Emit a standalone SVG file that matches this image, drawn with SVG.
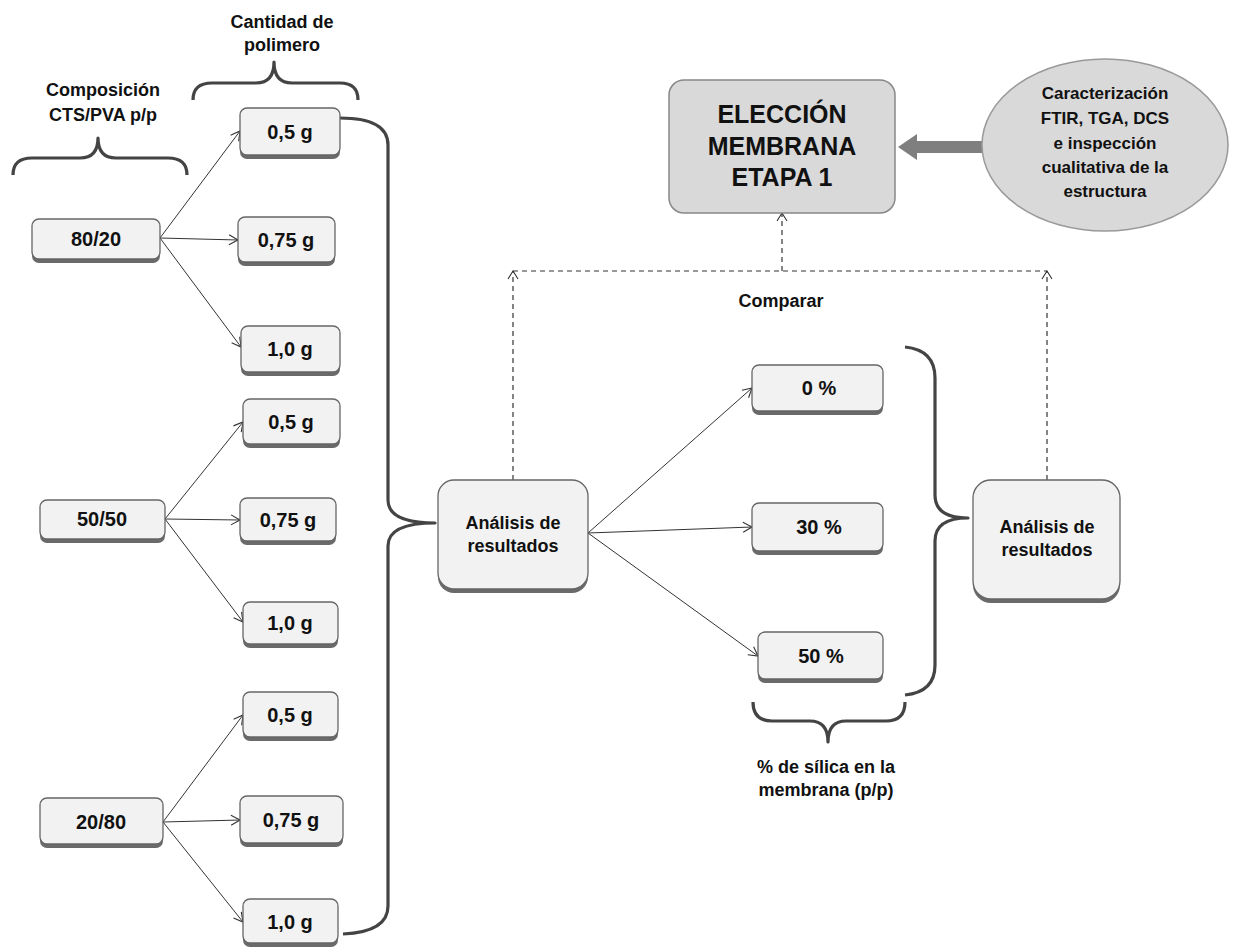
<svg xmlns="http://www.w3.org/2000/svg" width="1233" height="948" viewBox="0 0 1233 948">
<style>
text{font-family:"Liberation Sans",Arial,sans-serif;font-weight:bold;fill:#111;text-anchor:middle}
.lbl{font-size:18px}
.bx{font-size:20px}
.sh{fill:#6a6a6a}
.box{fill:#f2f2f2;stroke:#666;stroke-width:1.3}
.arr{fill:none;stroke:#333;stroke-width:1;marker-end:url(#oa)}
.dash{fill:none;stroke:#333;stroke-width:1.2;stroke-dasharray:5,4}
.brace{fill:none;stroke:#444;stroke-width:3.2;stroke-linejoin:round}
</style>
<defs>
<marker id="oa" markerWidth="12" markerHeight="12" refX="10" refY="6" orient="auto" markerUnits="userSpaceOnUse">
<path d="M1,1 L10,6 L1,11" fill="none" stroke="#333" stroke-width="1.1"/>
</marker>
<marker id="da" markerWidth="14" markerHeight="14" refX="7" refY="1" orient="0" markerUnits="userSpaceOnUse">
<path d="M2,9 L7,1 L12,9" fill="none" stroke="#333" stroke-width="1.1"/>
</marker>
</defs>

<g id="labels">
<text class="lbl" x="282" y="28">Cantidad de</text>
<text class="lbl" x="282" y="51">polimero</text>
<text class="lbl" x="103" y="96">Composición</text>
<text class="lbl" x="103" y="121">CTS/PVA p/p</text>
<text class="lbl" x="781" y="307">Comparar</text>
<text class="lbl" x="826" y="773">% de sílica en la</text>
<text class="lbl" x="826" y="796">membrana (p/p)</text>
</g>

<g id="braces">
<path class="brace" d="M13,175 Q13,158 32,158 L80,158 Q98,158 98,138 Q98,158 116,158 L168,158 Q187,158 187,175"/>
<path class="brace" d="M193,100 Q193,83 212,83 L256,83 Q274,83 274,62 Q274,83 292,83 L340,83 Q358,83 358,100"/>
<path class="brace" d="M753,702 Q753,721 772,721 L810,721 Q828,721 828,742 Q828,721 846,721 L886,721 Q905,721 905,702"/>
<path class="brace" d="M340,118 Q388,118 388,145 L388,500 Q388,523 435,523 Q388,523 388,546 L388,906 Q388,932 343,934"/>
<path class="brace" d="M905,347 Q935,350 935,378 L935,495 Q935,518 968,518 Q935,518 935,541 L935,665 Q935,692 905,695"/>
</g>

<g id="connectors">
<path class="arr" d="M160,238 L240,131"/>
<path class="arr" d="M160,238 L238,240"/>
<path class="arr" d="M160,238 L241,347"/>
<path class="arr" d="M165,519 L243,422"/>
<path class="arr" d="M165,519 L240,520"/>
<path class="arr" d="M165,519 L243,622"/>
<path class="arr" d="M163,822 L243,715"/>
<path class="arr" d="M163,822 L240,820"/>
<path class="arr" d="M163,822 L243,922"/>
<path class="arr" d="M588,533 L752,388"/>
<path class="arr" d="M588,533 L752,527"/>
<path class="arr" d="M588,533 L758,656"/>
<path class="dash" d="M513,480 L513,271" marker-end="url(#da)"/>
<path class="dash" d="M1047,480 L1047,271" marker-end="url(#da)"/>
<path class="dash" d="M513,271 L1047,271"/>
<path class="dash" d="M782,271 L782,213" marker-end="url(#da)"/>
<path d="M982,141 L917,141 L917,134 L898,147 L917,160 L917,153 L982,153 Z" fill="#7f7f7f"/>
</g>

<g id="n8020"><rect class="sh" x="32" y="222" width="128" height="41" rx="7"/><rect class="box" x="32" y="219" width="128" height="40" rx="7"/><text class="bx" x="96" y="246">80/20</text></g>
<g id="n5050"><rect class="sh" x="40" y="503" width="125" height="40" rx="7"/><rect class="box" x="40" y="500" width="125" height="39" rx="7"/><text class="bx" x="102" y="526">50/50</text></g>
<g id="n2080"><rect class="sh" x="40" y="801" width="123" height="47" rx="7"/><rect class="box" x="40" y="798" width="123" height="46" rx="7"/><text class="bx" x="101" y="829">20/80</text></g>

<g id="g1a"><rect class="sh" x="240" y="111" width="100" height="48" rx="7"/><rect class="box" x="240" y="108" width="100" height="47" rx="7"/><text class="bx" x="290" y="139">0,5 g</text></g>
<g id="g1b"><rect class="sh" x="238" y="220" width="97" height="46" rx="7"/><rect class="box" x="238" y="217" width="97" height="45" rx="7"/><text class="bx" x="286" y="247">0,75 g</text></g>
<g id="g1c"><rect class="sh" x="241" y="329" width="99" height="47" rx="7"/><rect class="box" x="241" y="326" width="99" height="46" rx="7"/><text class="bx" x="290" y="356">1,0 g</text></g>
<g id="g2a"><rect class="sh" x="243" y="402" width="97" height="46" rx="7"/><rect class="box" x="243" y="399" width="97" height="45" rx="7"/><text class="bx" x="291" y="429">0,5 g</text></g>
<g id="g2b"><rect class="sh" x="240" y="501" width="96" height="44" rx="7"/><rect class="box" x="240" y="498" width="96" height="43" rx="7"/><text class="bx" x="288" y="527">0,75 g</text></g>
<g id="g2c"><rect class="sh" x="243" y="605" width="95" height="43" rx="7"/><rect class="box" x="243" y="602" width="95" height="42" rx="7"/><text class="bx" x="290" y="630">1,0 g</text></g>
<g id="g3a"><rect class="sh" x="243" y="695" width="95" height="46" rx="7"/><rect class="box" x="243" y="692" width="95" height="45" rx="7"/><text class="bx" x="290" y="722">0,5 g</text></g>
<g id="g3b"><rect class="sh" x="240" y="799" width="103" height="48" rx="7"/><rect class="box" x="240" y="796" width="103" height="47" rx="7"/><text class="bx" x="291" y="827">0,75 g</text></g>
<g id="g3c"><rect class="sh" x="243" y="902" width="95" height="45" rx="7"/><rect class="box" x="243" y="899" width="95" height="44" rx="7"/><text class="bx" x="290" y="929">1,0 g</text></g>

<g id="analisis1"><rect class="sh" x="438" y="483" width="150" height="110" rx="16"/><rect class="box" x="438" y="480" width="150" height="109" rx="16"/><text class="lbl" x="513" y="529">Análisis de</text><text class="lbl" x="513" y="552">resultados</text></g>

<g id="p0"><rect class="sh" x="752" y="368" width="131" height="47" rx="7"/><rect class="box" x="752" y="365" width="131" height="46" rx="7"/><text class="bx" x="819" y="395">0 %</text></g>
<g id="p30"><rect class="sh" x="752" y="506" width="131" height="49" rx="7"/><rect class="box" x="752" y="503" width="131" height="48" rx="7"/><text class="bx" x="819" y="534">30 %</text></g>
<g id="p50"><rect class="sh" x="758" y="635" width="125" height="48" rx="7"/><rect class="box" x="758" y="632" width="125" height="47" rx="7"/><text class="bx" x="821" y="663">50 %</text></g>

<g id="analisis2"><rect class="sh" x="973" y="483" width="147" height="120" rx="18"/><rect class="box" x="973" y="480" width="147" height="119" rx="18"/><text class="lbl" x="1047" y="533">Análisis de</text><text class="lbl" x="1047" y="556">resultados</text></g>

<g id="eleccion"><rect x="669" y="80" width="226" height="133" rx="15" fill="#d9d9d9" stroke="#888" stroke-width="1.5"/>
<text x="782" y="123" font-size="25">ELECCIÓN</text><text x="782" y="155" font-size="25">MEMBRANA</text><text x="782" y="186" font-size="25">ETAPA 1</text></g>

<g id="caracterizacion"><ellipse cx="1105" cy="145" rx="123" ry="86" fill="#d9d9d9" stroke="#999" stroke-width="1.5"/>
<text font-size="17" x="1105" y="99">Caracterización</text>
<text font-size="17" x="1105" y="124">FTIR, TGA, DCS</text>
<text font-size="17" x="1105" y="149">e inspección</text>
<text font-size="17" x="1105" y="173">cualitativa de la</text>
<text font-size="17" x="1105" y="197">estructura</text></g>
</svg>
